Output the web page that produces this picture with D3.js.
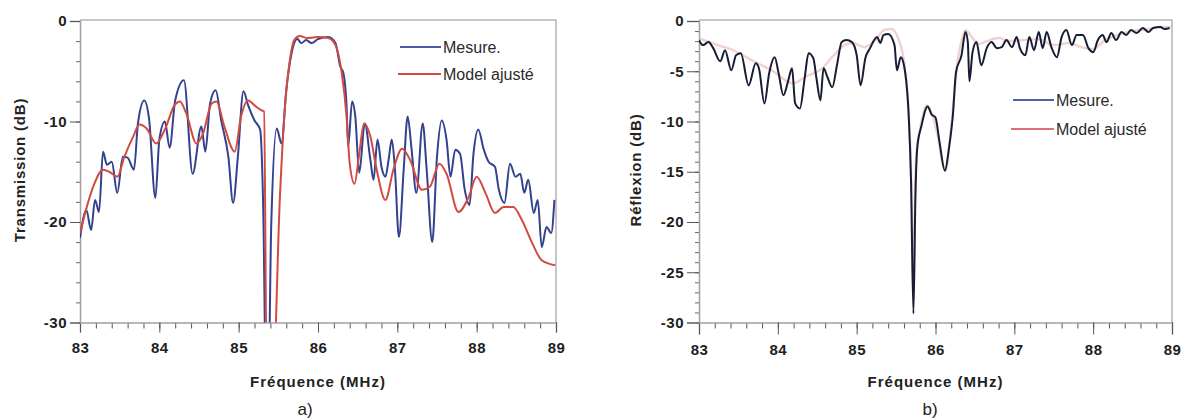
<!DOCTYPE html>
<html>
<head>
<meta charset="utf-8">
<script src="https://cdn.jsdelivr.net/npm/d3@7"></script>
<style>
  body { margin: 0; background: #fff; }
  svg { display: block; font-family: "Liberation Sans", Arial, sans-serif; }
</style>
</head>
<body>
<div id="chart"></div>
<script>
// ---- data ----
var freqTicks = [83, 84, 85, 86, 87, 88, 89];
var yTicksA = [0, -10, -20, -30];
var yTicksB = [0, -5, -10, -15, -20, -25, -30];
var legendLabels = ["Mesure.", "Model ajusté"];

// a) transmission, measurement
var freqMesA = [83.00, 83.08, 83.14, 83.19, 83.24, 83.29, 83.34, 83.40, 83.47, 83.54, 83.60, 83.68, 83.73, 83.81, 83.87, 83.95,
  84.00, 84.07, 84.13, 84.20, 84.31, 84.42, 84.53, 84.58, 84.64, 84.71, 84.78, 84.87, 84.93, 84.99,
  85.06, 85.12, 85.20, 85.27, 85.31, 85.345, 85.375, 85.41, 85.48, 85.54, 85.60, 85.66, 85.74, 85.79, 85.85, 85.92,
  86.00, 86.13, 86.22, 86.28, 86.32, 86.36, 86.38, 86.43, 86.47, 86.52, 86.59, 86.66, 86.70, 86.75, 86.80, 86.85, 86.89, 86.93, 86.97,
  87.02, 87.08, 87.13, 87.18, 87.24, 87.32, 87.37, 87.44, 87.50, 87.56, 87.62, 87.67, 87.73, 87.79, 87.85, 87.91, 87.96,
  88.02, 88.09, 88.15, 88.23, 88.28, 88.35, 88.42, 88.49, 88.55, 88.60, 88.65, 88.72, 88.77, 88.82, 88.88, 88.94, 88.98];
var mesA = [-21.6, -18.8, -20.8, -17.8, -19.0, -13.0, -14.3, -14.0, -17.1, -13.5, -13.6, -14.8, -10.2, -7.9, -9.7, -17.6,
  -11.8, -10.0, -12.6, -7.9, -5.9, -15.2, -10.5, -13.0, -8.2, -6.9, -9.9, -13.5, -18.1, -13.5,
  -7.0, -8.4, -9.9, -10.8, -18.8, -36, -36, -20.5, -10.7, -12.2, -6.9, -3.5, -1.8, -2.2, -1.9, -2.2,
  -1.8, -1.6, -2.2, -4.5, -5.2, -8.5, -12.5, -8.0, -9.5, -15.1, -10.2, -13.8, -15.8, -11.8, -14.5, -15.5, -13.8, -11.8, -14.8,
  -21.5, -14.8, -9.5, -12.8, -17.1, -10.2, -14.8, -22.0, -13.5, -9.9, -11.8, -15.5, -12.8, -13.2, -16.8, -18.3, -13.2,
  -10.8, -12.8, -14.0, -14.5, -16.8, -18.1, -14.2, -15.5, -15.2, -17.1, -15.8, -19.1, -17.8, -22.5, -20.5, -21.1, -17.8];

// a) transmission, fitted model
var freqModA = [83.00, 83.10, 83.18, 83.29, 83.37, 83.47, 83.56, 83.67, 83.75, 83.84, 83.96,
  84.07, 84.19, 84.26, 84.34, 84.47, 84.55, 84.66, 84.72, 84.82, 84.95,
  85.03, 85.12, 85.20, 85.29, 85.32, 85.355, 85.43, 85.52, 85.58, 85.64, 85.70, 85.77, 85.87,
  86.00, 86.13, 86.22, 86.30, 86.36, 86.40, 86.46, 86.52, 86.58, 86.66, 86.74, 86.85, 86.95,
  87.06, 87.16, 87.31, 87.41, 87.53, 87.62, 87.77, 87.90,
  88.00, 88.11, 88.23, 88.34, 88.46, 88.57, 88.70, 88.82, 88.99];
var modA = [-21.1, -18.1, -16.2, -14.8, -15.0, -15.5, -13.5, -11.5, -10.3, -10.7, -12.2,
  -10.8, -8.4, -8.0, -9.2, -12.2, -11.2, -8.2, -8.0, -10.5, -13.0,
  -9.5, -7.9, -8.4, -8.9, -9.0, -36, -36, -17.5, -8.9, -4.2, -1.9, -1.5, -1.7,
  -1.6, -1.7, -2.4, -5.2, -9.5, -14.2, -16.2, -13.2, -10.2, -11.5, -14.8, -17.8, -14.8,
  -12.7, -13.8, -16.8, -16.5, -14.2, -15.2, -19.0, -17.5,
  -15.5, -17.1, -19.1, -18.5, -18.5, -19.8, -22.1, -23.8, -24.3];

// b) reflection, measurement
var freqMesB = [83.00, 83.05, 83.12, 83.18, 83.27, 83.33, 83.41, 83.47, 83.53, 83.63, 83.72, 83.76, 83.83, 83.89, 83.96,
  84.01, 84.07, 84.13, 84.18, 84.22, 84.28, 84.34, 84.39, 84.45, 84.49, 84.54, 84.58, 84.63, 84.69, 84.75, 84.81, 84.87, 84.94,
  85.00, 85.05, 85.11, 85.17, 85.26, 85.30, 85.34, 85.40, 85.48, 85.51, 85.56, 85.60, 85.66, 85.69, 85.72, 85.745, 85.77, 85.82, 85.90, 85.95,
  86.00, 86.05, 86.12, 86.17, 86.22, 86.26, 86.33, 86.38, 86.41, 86.43, 86.47, 86.52, 86.58, 86.65, 86.71, 86.78, 86.84, 86.90, 86.97,
  87.03, 87.07, 87.14, 87.19, 87.25, 87.31, 87.36, 87.41, 87.47, 87.54, 87.60, 87.66, 87.73, 87.79, 87.87, 87.94,
  88.00, 88.06, 88.12, 88.17, 88.23, 88.29, 88.36, 88.42, 88.48, 88.55, 88.63, 88.70, 88.76, 88.85, 88.91, 88.97];
var mesB = [-1.9, -2.4, -2.1, -2.7, -4.0, -2.9, -4.9, -3.4, -3.2, -6.4, -4.2, -4.7, -8.2, -5.2, -3.6,
  -5.2, -7.4, -6.0, -4.7, -8.2, -8.7, -5.7, -3.2, -3.7, -5.7, -7.9, -4.7, -5.6, -6.6, -4.4, -2.1, -1.9, -2.1,
  -3.4, -6.4, -3.7, -2.7, -1.6, -2.2, -1.4, -1.3, -2.4, -4.9, -3.6, -4.4, -9.4, -16.0, -29.1, -17.5, -12.5, -10.5, -8.5, -9.3,
  -9.6, -12.0, -14.9, -12.7, -9.4, -5.1, -3.4, -1.1, -2.1, -6.0, -3.1, -2.1, -4.4, -2.7, -2.1, -2.7, -2.6, -1.9, -2.6,
  -1.6, -2.7, -3.4, -1.6, -2.9, -1.1, -2.7, -1.1, -2.6, -3.6, -1.6, -0.9, -2.4, -1.4, -1.4, -2.7,
  -3.1, -1.9, -1.4, -2.1, -1.2, -1.9, -1.1, -1.4, -0.9, -1.2, -0.7, -1.1, -0.7, -0.6, -0.8, -0.7];

// b) reflection, fitted model
var freqModB = [83.00, 83.20, 83.40, 83.69, 83.94, 84.19, 84.36, 84.55, 84.70, 84.85, 84.95,
  85.10, 85.25, 85.35, 85.44, 85.53, 85.60, 85.65, 85.69, 85.72, 85.75, 85.81, 85.89, 85.96,
  86.03, 86.10, 86.13, 86.18, 86.23, 86.28, 86.33, 86.38, 86.45, 86.55, 86.65, 86.80, 86.95,
  87.10, 87.30, 87.50, 87.70, 87.85, 88.00, 88.15, 88.30, 88.50, 88.70, 88.85, 89.00];
var modB = [-1.7, -2.3, -2.8, -4.0, -5.0, -6.2, -5.5, -4.8, -3.5, -2.4, -2.2,
  -2.6, -1.8, -0.9, -0.8, -1.8, -4.0, -8.0, -15.0, -27.0, -14.0, -10.5, -8.4, -9.3,
  -11.5, -14.5, -14.8, -12.0, -8.0, -4.0, -2.0, -0.9, -1.5, -2.3, -2.0, -1.7, -2.0,
  -1.9, -1.8, -2.4, -2.2, -2.6, -2.8, -1.9, -1.4, -1.0, -0.8, -0.6, -0.6];

// ---- layout ----
var svg = d3.select("#chart").append("svg")
  .attr("width", 1184)
  .attr("height", 418);

var panels = [
  { id: "a", left: 80, right: 556, yTicks: yTicksA, minorY: 2, yTickLen: 10, xTickLen: 10,
    title: "Transmission (dB)", titleX: 20, tag: "a)", tagX: 305,
    mesX: freqMesA, mesY: mesA, modX: freqModA, modY: modA,
    mesColor: "#33418f", modColor: "#d24b40", modOpacity: 1, modWidth: 2,
    legX: 400, legY: [47, 74], legModColor: "#d24b40" },
  { id: "b", left: 699, right: 1172, yTicks: yTicksB, minorY: 1, yTickLen: 12, xTickLen: 12,
    title: "Réflexion (dB)", titleX: 636, tag: "b)", tagX: 930,
    mesX: freqMesB, mesY: mesB, modX: freqModB, modY: modB,
    mesColor: "#181c34", modColor: "#e6b4b4", modOpacity: 0.6, modWidth: 2.5,
    legX: 1013, legY: [100, 129], legModColor: "#dd6f78" }
];

var plotTop = 21, plotBottom = 322.5;

panels.forEach(function(p) {
  var x = d3.scaleLinear().domain([83, 89]).range([p.left, p.right]);
  var y = d3.scaleLinear().domain([0, -30]).range([plotTop, plotBottom]);
  var g = svg.append("g");

  // frame (top + right)
  g.append("path")
    .attr("d", "M" + p.left + "," + (plotTop - 1) + "H" + p.right + "V" + plotBottom)
    .attr("fill", "none").attr("stroke", "#b4b4b4").attr("stroke-width", 1.5);

  g.append("clipPath").attr("id", "clip-" + p.id)
    .append("rect")
    .attr("x", p.left).attr("y", plotTop - 2)
    .attr("width", p.right - p.left).attr("height", plotBottom - plotTop + 2);

  // minor ticks
  var minorX = d3.range(83, 89.001, 0.2);
  g.append("g")
    .attr("transform", "translate(0," + plotBottom + ")")
    .call(d3.axisBottom(x).tickValues(minorX).tickSize(6).tickFormat(""))
    .call(function(a) { a.select(".domain").remove(); a.selectAll("line").attr("stroke", "#555"); });
  var minorYv = d3.range(0, -30.001, -p.minorY);
  g.append("g")
    .attr("transform", "translate(" + p.left + ",0)")
    .call(d3.axisLeft(y).tickValues(minorYv).tickSize(4).tickFormat(""))
    .call(function(a) { a.select(".domain").remove(); a.selectAll("line").attr("stroke", "#666"); });

  // major axes (plain hyphen minus, like the original)
  var fmt = function(d) { return String(d); };
  var xAxis = g.append("g")
    .attr("transform", "translate(0," + plotBottom + ")")
    .call(d3.axisBottom(x).tickValues(freqTicks).tickSize(p.xTickLen).tickPadding(10).tickFormat(fmt));
  var yAxis = g.append("g")
    .attr("transform", "translate(" + p.left + ",0)")
    .call(d3.axisLeft(y).tickValues(p.yTicks).tickSize(p.yTickLen).tickPadding(3).tickFormat(fmt));
  [xAxis, yAxis].forEach(function(a) {
    a.select(".domain").attr("stroke", "#a0a0a0").attr("stroke-width", 1.5);
    a.selectAll("line").attr("stroke", "#555");
    a.selectAll("text")
      .attr("fill", "#1e1e1e")
      .style("font-size", "15px")
      .style("font-weight", "bold")
      .style("letter-spacing", "0.5px")
      .style("font-family", "'Liberation Sans', Arial, sans-serif");
  });

  // curves
  var smooth = d3.line()
    .curve(d3.curveMonotoneX)
    .x(function(d) { return x(d[0]); })
    .y(function(d) { return y(d[1]); });

  var plot = g.append("g").attr("clip-path", "url(#clip-" + p.id + ")");
  var mesData = d3.zip(p.mesX, p.mesY);
  var modData = d3.zip(p.modX, p.modY);

  if (p.id == "a") {
    plot.append("path").datum(mesData)
      .attr("d", smooth).attr("fill", "none")
      .attr("stroke", p.mesColor).attr("stroke-width", 2).attr("stroke-linejoin", "round");
    plot.append("path").datum(modData)
      .attr("d", smooth).attr("fill", "none")
      .attr("stroke", p.modColor).attr("stroke-width", p.modWidth).attr("opacity", p.modOpacity);
  } else {
    plot.append("path").datum(modData)
      .attr("d", smooth).attr("fill", "none")
      .attr("stroke", p.modColor).attr("stroke-width", p.modWidth).attr("opacity", p.modOpacity);
    plot.append("path").datum(mesData)
      .attr("d", smooth).attr("fill", "none")
      .attr("stroke", p.mesColor).attr("stroke-width", 2).attr("stroke-linejoin", "round");
  }

  // legend
  var legColors = [p.id == "a" ? "#4a5aa8" : "#4d62a8", p.legModColor];
  legendLabels.forEach(function(lab, i) {
    g.append("line")
      .attr("x1", p.legX - (i == 1 ? 2 : 0)).attr("x2", p.legX + 41)
      .attr("y1", p.legY[i]).attr("y2", p.legY[i])
      .attr("stroke", legColors[i]).attr("stroke-width", 2);
    g.append("text")
      .attr("x", p.legX + 43).attr("y", p.legY[i] + 5.5)
      .style("font-size", "16px")
      .attr("fill", "#2a2a2a")
      .text(lab);
  });

  // titles
  g.append("text")
    .attr("x", (p.left + p.right) / 2).attr("y", 387)
    .attr("text-anchor", "middle")
    .style("font-size", "15px").style("font-weight", "bold").style("letter-spacing", "1px")
    .attr("fill", "#222")
    .text("Fréquence (MHz)");
  g.append("text")
    .attr("transform", "translate(" + (p.titleX + 5) + "," + 170 + ") rotate(-90)")
    .attr("text-anchor", "middle")
    .style("font-size", "15px").style("font-weight", "bold").style("letter-spacing", "0.8px")
    .attr("fill", "#222")
    .text(p.title);
  g.append("text")
    .attr("x", p.tagX).attr("y", 415)
    .attr("text-anchor", "middle")
    .style("font-size", "17px")
    .attr("fill", "#222")
    .text(p.tag);
});
</script>
</body>
</html>
